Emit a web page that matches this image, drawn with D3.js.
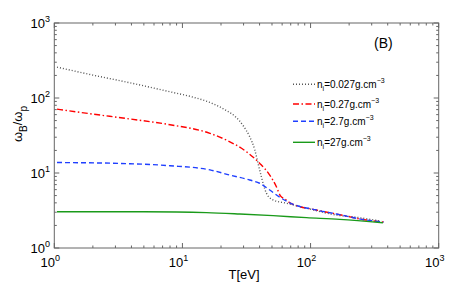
<!DOCTYPE html>
<html>
<head>
<meta charset="utf-8">
<script src="https://cdn.jsdelivr.net/npm/d3@7"></script>
<style>
  body { margin: 0; background: #fff; }
  svg { display: block; font-family: "Liberation Sans", Arial, Helvetica, sans-serif; }
</style>
</head>
<body>
<svg id="chart" width="463" height="290"></svg>
<script>
// series (T in eV, ratio omega_B / omega_p)
const tDot = [1.05, 2, 4, 8, 12, 17, 22, 26, 30, 33.5, 36.7, 38.9, 41.3, 45.2, 50.9, 65, 87, 159, 227, 356];
const vDot = [258, 202, 158, 121, 103, 85, 68, 56, 42, 30.5, 20.3, 13.5, 8.9, 5.4, 4.37, 3.95, 3.5, 2.75, 2.57, 2.28];

const tDashDot = [1.05, 2, 3.9, 8, 16.4, 22, 31.6, 40, 48, 54, 58, 63, 69, 111, 159, 272, 371];
const vDashDot = [71, 61, 52.5, 44, 33.8, 27.5, 19.2, 13.5, 9.4, 6.6, 5.0, 4.5, 4.0, 3.21, 2.84, 2.36, 2.22];

const tDash = [1.05, 3.9, 8, 16.4, 23.4, 33.5, 40, 48, 57, 66.7, 111, 159, 272, 371];
const vDash = [13.8, 13.3, 12.5, 11, 9.4, 8.07, 7.3, 5.93, 4.8, 4.1, 3.21, 2.84, 2.36, 2.22];

const tSolid = [1.05, 5, 15.4, 28, 51, 93, 169, 367];
const vSolid = [3.05, 3.04, 2.96, 2.84, 2.7, 2.54, 2.41, 2.17];

const legendDens = ["0.027", "0.27", "2.7", "27"];
const xDecades = [1, 10, 100, 1000];
const yDecades = [1, 10, 100, 1000];

const series = [
  { t: tDot, v: vDot, color: "#555555", dash: "1,2" },
  { t: tDashDot, v: vDashDot, color: "#ff0000", dash: "6,2.5,1.5,2.5" },
  { t: tDash, v: vDash, color: "#1f3fff", dash: "5,3" },
  { t: tSolid, v: vSolid, color: "#1a9a1a", dash: null }
];

const svg = d3.select("#chart");
const plotL = 54.3, plotR = 438.7, plotT = 23, plotB = 248;

const x = d3.scaleLog().domain([1, 1000]).range([plotL, plotR]);
const y = d3.scaleLog().domain([1, 1000]).range([plotB, plotT]);

const frameColor = "#666";

// curves
const line = d3.line()
  .x(d => x(d[0]))
  .y(d => y(d[1]))
  .curve(d3.curveMonotoneX);

series.forEach(s => {
  svg.append("path")
    .datum(s.t.map((t, i) => [t, s.v[i]]))
    .attr("fill", "none")
    .attr("stroke", s.color)
    .attr("stroke-width", 1.4)
    .attr("stroke-dasharray", s.dash)
    .attr("d", line);
});

// frame
svg.append("rect")
  .attr("x", plotL).attr("y", plotT)
  .attr("width", plotR - plotL).attr("height", plotB - plotT)
  .attr("fill", "none")
  .attr("stroke", frameColor)
  .attr("stroke-width", 1);

// ticks, inward on all four sides
const ticks = svg.append("g").attr("stroke", frameColor).attr("stroke-width", 1);
x.ticks().forEach(t => {
  const major = xDecades.includes(t);
  const len = major ? 5 : 2.5;
  const px = x(t);
  ticks.append("line").attr("x1", px).attr("x2", px).attr("y1", plotB).attr("y2", plotB - len);
  ticks.append("line").attr("x1", px).attr("x2", px).attr("y1", plotT).attr("y2", plotT + len);
});
y.ticks().forEach(t => {
  const major = yDecades.includes(t);
  const len = major ? 5 : 2.5;
  const py = y(t);
  ticks.append("line").attr("y1", py).attr("y2", py).attr("x1", plotL).attr("x2", plotL + len);
  ticks.append("line").attr("y1", py).attr("y2", py).attr("x1", plotR).attr("x2", plotR - len);
});

// tick labels 10^n
xDecades.forEach((d, i) => {
  const tx = svg.append("text")
    .attr("x", x(d) - 4).attr("y", 267)
    .attr("text-anchor", "middle")
    .attr("font-size", 13)
    .attr("fill", "#000");
  tx.append("tspan").text("10");
  tx.append("tspan").attr("font-size", 9).attr("dy", -6).text(i);
});
yDecades.forEach((d, i) => {
  const ty = svg.append("text")
    .attr("x", 50).attr("y", y(d) + 5)
    .attr("text-anchor", "end")
    .attr("font-size", 13)
    .attr("fill", "#000");
  ty.append("tspan").text("10");
  ty.append("tspan").attr("font-size", 9).attr("dy", -6).text(i);
});

// axis titles
svg.append("text")
  .attr("x", 244).attr("y", 279)
  .attr("text-anchor", "middle")
  .attr("font-size", 13)
  .text("T[eV]");

const yl = svg.append("text")
  .attr("transform", "translate(22,124) rotate(-90)")
  .attr("text-anchor", "middle")
  .attr("font-size", 13);
yl.append("tspan").text("ω");
yl.append("tspan").attr("font-size", 10).attr("dy", 5).text("B");
yl.append("tspan").attr("dy", -5).text("/ω");
yl.append("tspan").attr("font-size", 10).attr("dy", 5).text("p");

// panel tag
svg.append("text")
  .attr("x", 374).attr("y", 48)
  .attr("font-size", 14)
  .text("(B)");

// legend
const legY = [84.3, 104, 121.3, 142.3];
series.forEach((s, i) => {
  svg.append("line")
    .attr("x1", 293).attr("x2", 315)
    .attr("y1", legY[i]).attr("y2", legY[i])
    .attr("stroke", s.color)
    .attr("stroke-width", 1.4)
    .attr("stroke-dasharray", s.dash);
  const t = svg.append("text")
    .attr("x", 317).attr("y", legY[i] + 3.5)
    .attr("font-size", 10);
  t.append("tspan").text("n");
  t.append("tspan").attr("font-size", 7).attr("dy", 3).text("i");
  t.append("tspan").attr("dy", -3).text("=" + legendDens[i] + "g.cm");
  t.append("tspan").attr("font-size", 7).attr("dy", -5).text("−3");
});
</script>
</body>
</html>
